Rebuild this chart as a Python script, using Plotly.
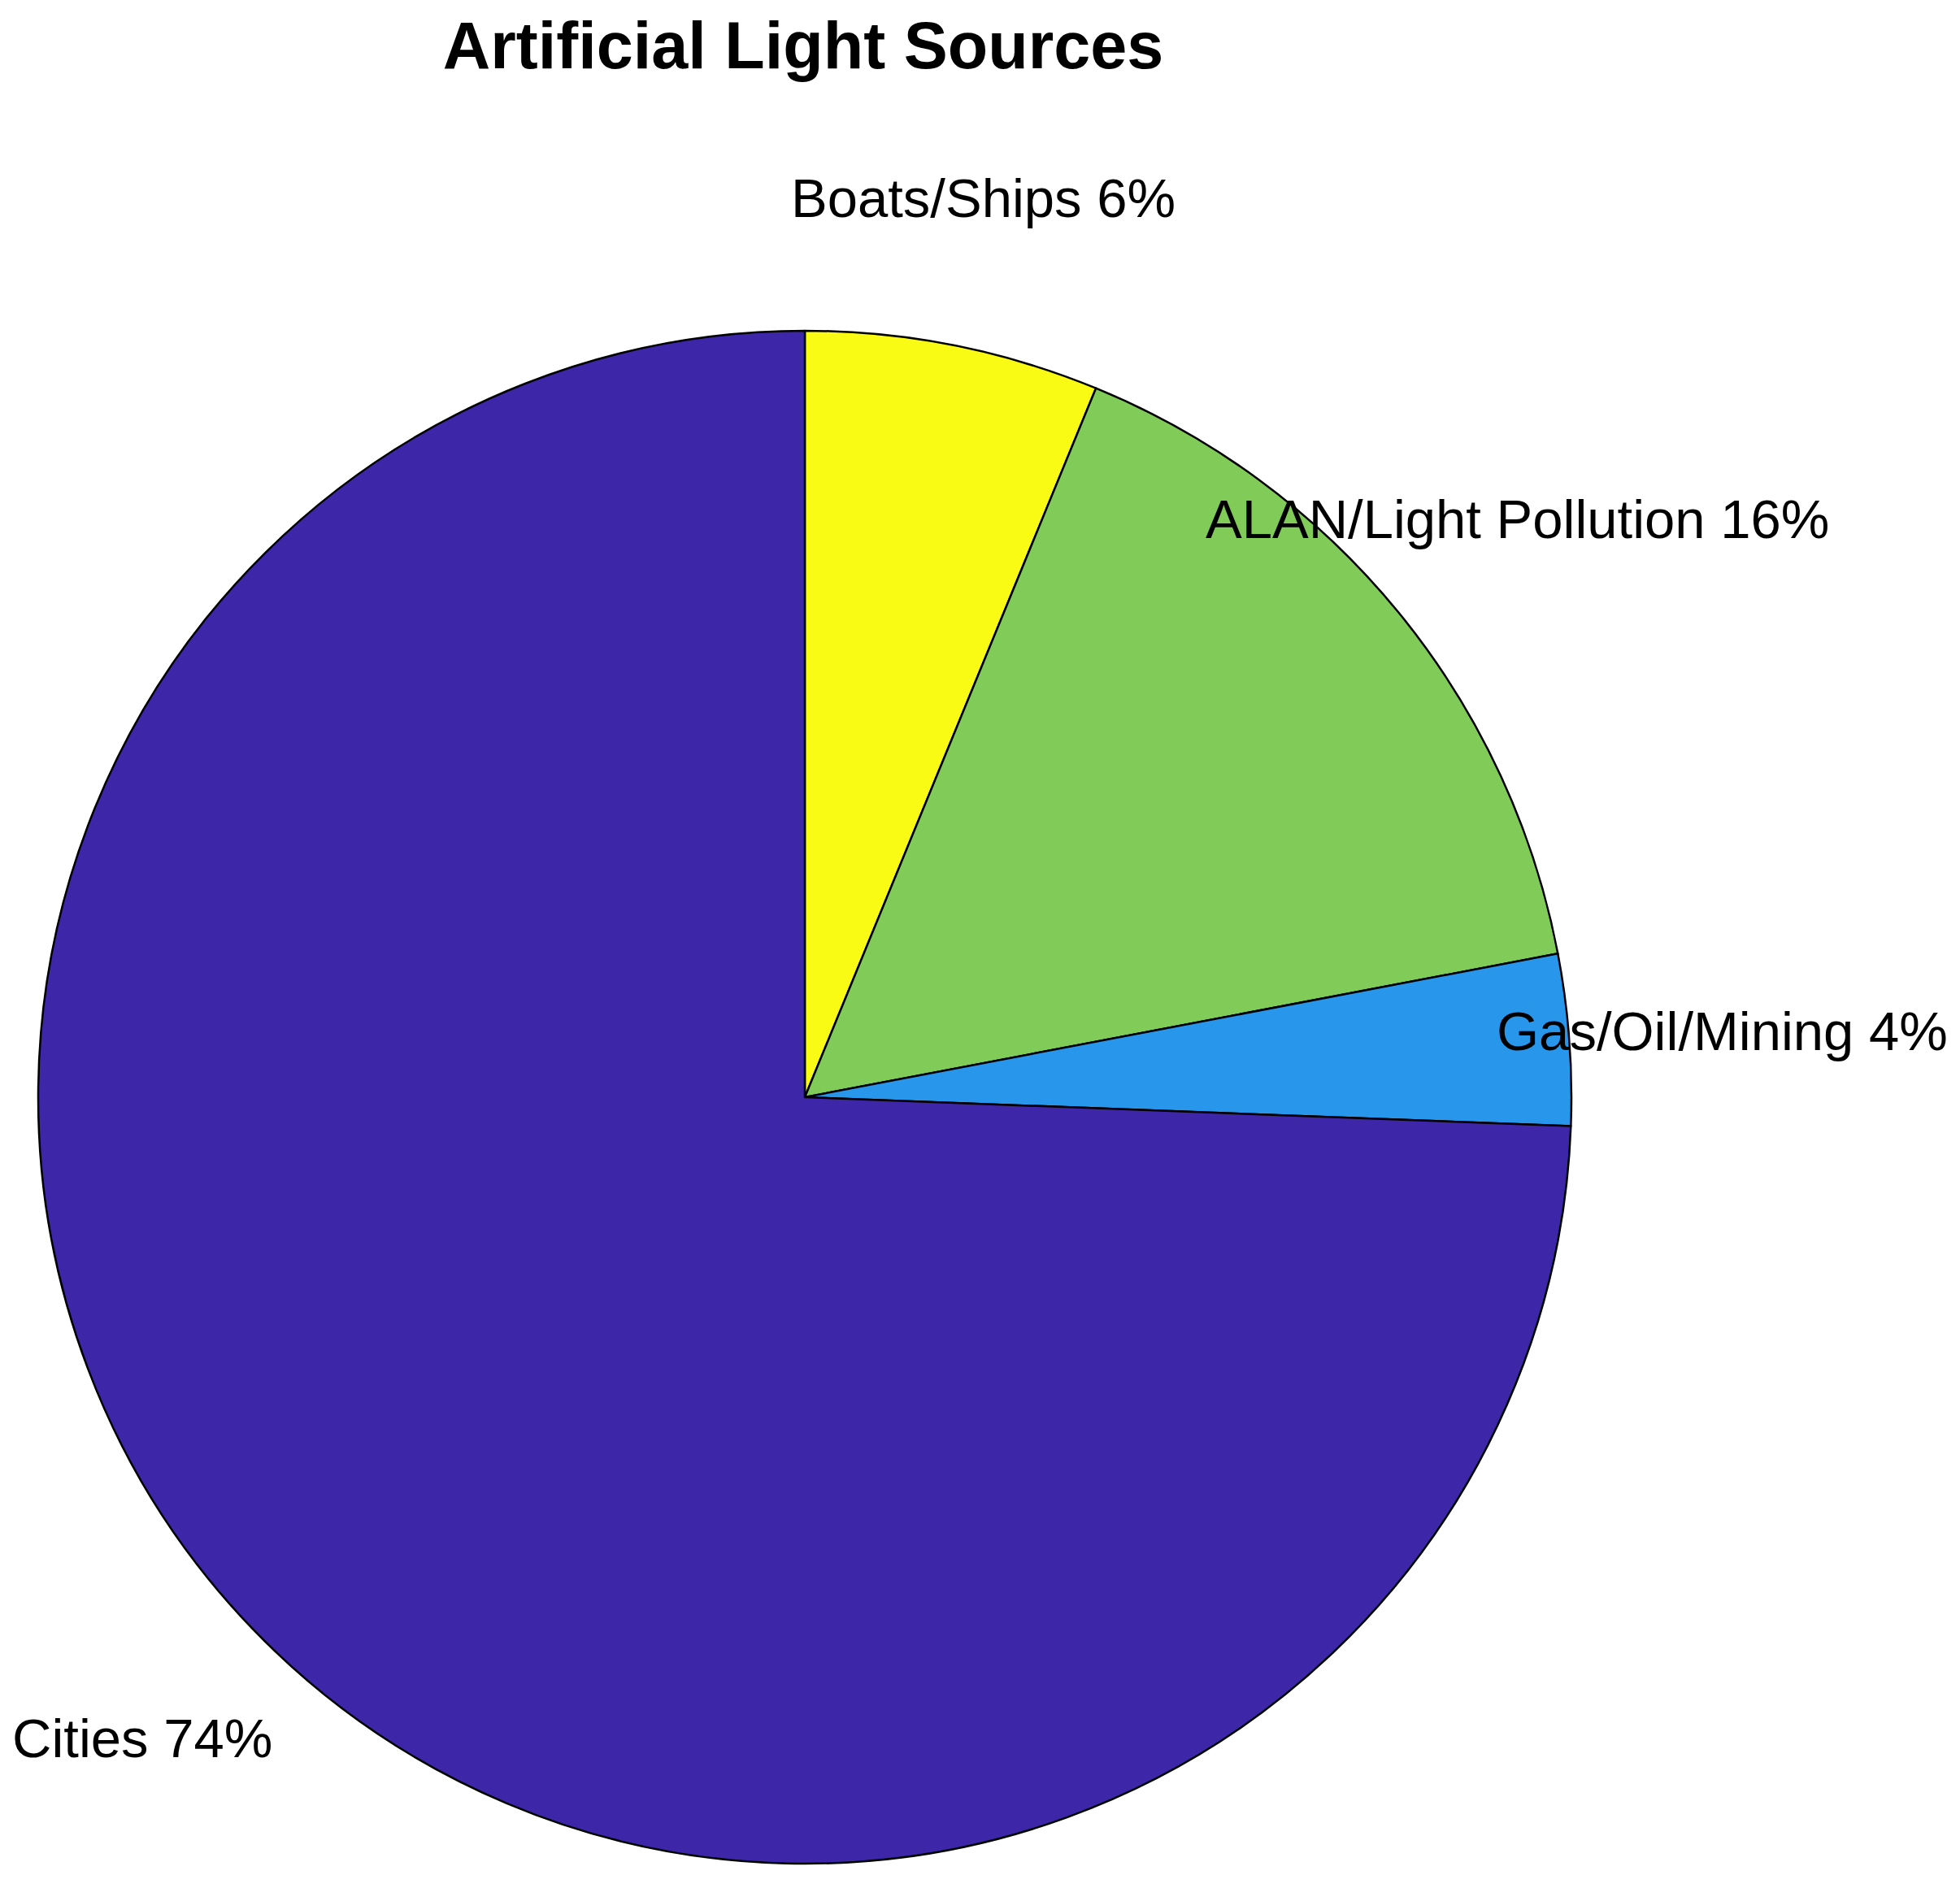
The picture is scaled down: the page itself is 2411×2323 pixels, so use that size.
import math
import plotly.graph_objects as go

# Data, in clockwise order starting from 12 o'clock
categories = ["Boats/Ships", "ALAN/Light Pollution", "Gas/Oil/Mining", "Cities"]
values = [6.2, 15.8, 3.6, 74.4]
colors = ["#F9FB15", "#81CC59", "#2796EB", "#3E26A8"]
title_text = "Artificial Light Sources"

W, H = 2411, 2323
# pie center / radius in pixels (from top-left), compensating the page's 8px body margin
cx, cy, R = 982, 1342, 943

fig = go.Figure(go.Pie(
    labels=categories,
    values=values,
    sort=False,
    direction="clockwise",
    rotation=0,
    textinfo="none",
    marker=dict(colors=colors, line=dict(color="black", width=2.5)),
    domain=dict(x=[(cx - R) / W, (cx + R) / W],
                y=[1 - (cy + R) / H, 1 - (cy - R) / H]),
    showlegend=False,
))

total = sum(values)
cum = 0
annotations = []
for cat, v in zip(categories, values):
    mid = (cum + v / 2) / total * 2 * math.pi
    cum += v
    px = cx + 1.2 * R * math.sin(mid)
    py = cy - 1.2 * R * math.cos(mid) + 4
    annotations.append(dict(
        x=px / W, y=1 - py / H, xref="paper", yref="paper",
        text=f"{cat} {round(v / total * 100)}%", showarrow=False,
        xanchor="center", yanchor="middle",
        font=dict(family="Liberation Sans, Arial, sans-serif", size=67, color="black"),
    ))

fig.update_layout(
    width=W, height=H,
    margin=dict(l=0, r=0, t=0, b=0),
    paper_bgcolor="white", plot_bgcolor="white",
    title=dict(text=f"<b>{title_text}</b>", x=980 / W, y=1 - 48 / H,
               xref="container", yref="container",
               xanchor="center", yanchor="middle",
               font=dict(family="Liberation Sans, Arial, sans-serif", size=81, color="black")),
    annotations=annotations,
)

fig.write_html("out.html")
